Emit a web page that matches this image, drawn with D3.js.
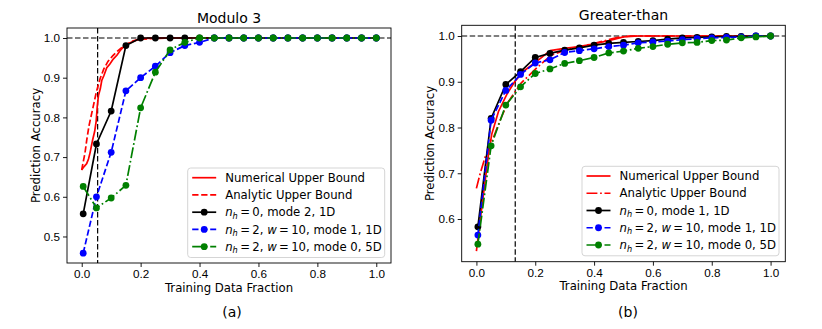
<!DOCTYPE html>
<html>
<head>
<meta charset="utf-8">
<script src="https://cdn.jsdelivr.net/npm/d3@7"></script>
<style>
  body { margin: 0; background: #fff; }
  svg { display: block; font-family: "DejaVu Sans", sans-serif; }
  .tick text { font-size: 11.7px; fill: #000; }
  .tick line, .domain { stroke: #000; }
</style>
</head>
<body>
<div id="chart"></div>
<script>
// training fractions at which the models were run
var fracs = [0.005, 0.05, 0.1, 0.15, 0.2, 0.25, 0.3, 0.35, 0.4, 0.45, 0.5,
             0.55, 0.6, 0.65, 0.7, 0.75, 0.8, 0.85, 0.9, 0.95, 1.0];

// (a) Modulo 3
var mod3Black = [0.557, 0.733, 0.816, 0.981, 1.0, 1.0, 1.0, 1.0, 1.0, 1.0, 1.0,
                 1.0, 1.0, 1.0, 1.0, 1.0, 1.0, 1.0, 1.0, 1.0, 1.0];
var mod3Blue  = [0.458, 0.600, 0.712, 0.867, 0.900, 0.929, 0.963, 0.981, 0.989, 1.0, 1.0,
                 1.0, 1.0, 1.0, 1.0, 1.0, 1.0, 1.0, 1.0, 1.0, 1.0];
var mod3Green = [0.626, 0.572, 0.597, 0.629, 0.824, 0.914, 0.970, 0.989, 1.0, 1.0, 1.0,
                 1.0, 1.0, 1.0, 1.0, 1.0, 1.0, 1.0, 1.0, 1.0, 1.0];
var mod3NumX = [0, 0.008, 0.017, 0.023, 0.028, 0.037, 0.044, 0.049, 0.053, 0.057, 0.063, 0.068,
                0.075, 0.085, 0.095, 0.107, 0.12, 0.13, 0.147, 0.17, 0.19, 0.22, 0.25, 1.0];
var mod3NumY = [0.668, 0.676, 0.684, 0.695, 0.71, 0.743, 0.765, 0.79, 0.83, 0.856, 0.872, 0.893,
                0.905, 0.925, 0.934, 0.947, 0.957, 0.968, 0.982, 0.99, 0.996, 0.999, 1.0, 1.0];
var mod3AnaX = [0, 0.002, 0.011, 0.017, 0.025, 0.038, 0.05, 0.063, 0.075, 0.089, 0.105, 0.12,
                0.141, 0.175, 0.2, 0.25, 0.3, 1.0];
var mod3AnaY = [0.667, 0.676, 0.71, 0.743, 0.78, 0.824, 0.865, 0.899, 0.922, 0.941, 0.955, 0.966,
                0.979, 0.993, 0.997, 0.999, 1.0, 1.0];

// (b) Greater-than
var gtBlack = [0.583, 0.820, 0.894, 0.922, 0.953, 0.962, 0.969, 0.974, 0.980, 0.984, 0.986,
               0.988, 0.990, 0.993, 0.996, 0.997, 0.998, 0.999, 0.999, 1.0, 1.0];
var gtBlue  = [0.565, 0.816, 0.881, 0.916, 0.941, 0.948, 0.964, 0.968, 0.972, 0.977, 0.980,
               0.985, 0.987, 0.989, 0.992, 0.994, 0.996, 0.997, 0.998, 1.0, 1.0];
var gtGreen = [0.545, 0.760, 0.849, 0.889, 0.918, 0.928, 0.940, 0.946, 0.953, 0.963, 0.967,
               0.973, 0.977, 0.982, 0.985, 0.986, 0.990, 0.991, 0.996, 0.998, 1.0];
var gtNumX = [0, 0.013, 0.03, 0.041, 0.052, 0.075, 0.103, 0.13, 0.16, 0.206, 0.251,
              0.3, 0.35, 0.4, 0.45, 0.5, 0.55, 1.0];
var gtNumY = [0.53, 0.598, 0.685, 0.74, 0.785, 0.835, 0.872, 0.9, 0.923, 0.945, 0.968,
              0.973, 0.977, 0.983, 0.99, 0.998, 1.0, 1.0];
var gtAnaX = [0, 0.013, 0.03, 0.05, 0.08, 0.107, 0.152, 0.203, 0.254, 0.311, 0.402, 0.481, 0.52, 1.0];
var gtAnaY = [0.667, 0.70, 0.736, 0.765, 0.815, 0.855, 0.897, 0.929, 0.958, 0.971, 0.984, 0.997, 1.0, 1.0];

var xTicks = [0, 0.2, 0.4, 0.6, 0.8, 1.0];

var svg = d3.select("#chart").append("svg")
  .attr("width", 822)
  .attr("height", 329);

function zip(xs, ys) {
  return xs.map(function(x, i) { return [x, ys[i]]; });
}

function drawPanel(p) {
  var x = d3.scaleLinear().domain([-0.05, 1.05]).range([p.left, p.right]);
  var y = d3.scaleLinear().domain(p.ydom).range([p.bottom, p.top]);
  var g = svg.append("g");

  var clipId = "clip" + p.tag;
  svg.append("clipPath").attr("id", clipId)
    .append("rect")
    .attr("x", p.left).attr("y", p.top)
    .attr("width", p.right - p.left).attr("height", p.bottom - p.top);

  var plot = g.append("g").attr("clip-path", "url(#" + clipId + ")");

  // reference lines
  plot.append("line")
    .attr("x1", p.left).attr("x2", p.right)
    .attr("y1", y(1)).attr("y2", y(1))
    .attr("stroke", "#000").attr("stroke-width", 1.2)
    .attr("stroke-dasharray", "5.5,2.5");
  plot.append("line")
    .attr("x1", x(p.vline)).attr("x2", x(p.vline))
    .attr("y1", p.top).attr("y2", p.bottom)
    .attr("stroke", "#000").attr("stroke-width", 1.2)
    .attr("stroke-dasharray", "5.5,2.5");

  var line = d3.line()
    .x(function(d) { return x(d[0]); })
    .y(function(d) { return y(d[1]); });

  p.series.forEach(function(s) {
    plot.append("path")
      .datum(s.pts)
      .attr("d", line)
      .attr("fill", "none")
      .attr("stroke", s.color)
      .attr("stroke-width", 1.7)
      .attr("stroke-dasharray", s.dash || null);
    if (s.marker) {
      plot.selectAll(null)
        .data(s.pts)
        .enter()
        .append("circle")
        .attr("cx", function(d) { return x(d[0]); })
        .attr("cy", function(d) { return y(d[1]); })
        .attr("r", 3.4)
        .attr("fill", s.color);
    }
  });

  // axes
  g.append("g")
    .attr("transform", "translate(0," + p.bottom + ")")
    .call(d3.axisBottom(x).tickValues(xTicks).tickFormat(d3.format(".1f"))
      .tickSizeOuter(0).tickSize(4).tickPadding(3))
    .call(function(a) { a.select(".domain").remove(); });
  g.append("g")
    .attr("transform", "translate(" + p.left + ",0)")
    .call(d3.axisLeft(y).tickValues(p.yticks).tickFormat(d3.format(".1f"))
      .tickSizeOuter(0).tickSize(4).tickPadding(3))
    .call(function(a) { a.select(".domain").remove(); });
  g.selectAll(".tick line").attr("stroke-width", 0.9);

  g.append("rect")
    .attr("x", p.left).attr("y", p.top)
    .attr("width", p.right - p.left).attr("height", p.bottom - p.top)
    .attr("fill", "none").attr("stroke", "#000").attr("stroke-width", 0.9);

  // titles and labels
  var cx = (p.left + p.right) / 2;
  g.append("text")
    .attr("x", cx).attr("y", p.top - 5)
    .attr("text-anchor", "middle").attr("font-size", "14px")
    .text(p.title);
  g.append("text")
    .attr("x", cx).attr("y", p.bottom + 28.5)
    .attr("text-anchor", "middle").attr("font-size", "11.7px")
    .text("Training Data Fraction");
  g.append("text")
    .attr("transform", "translate(" + p.ylabX + "," + ((p.top + p.bottom) / 2) + ") rotate(-90)")
    .attr("text-anchor", "middle").attr("dy", "0.35em").attr("font-size", "11.7px")
    .text("Prediction Accuracy");
  g.append("text")
    .attr("x", p.capX).attr("y", 317)
    .attr("text-anchor", "middle").attr("font-size", "14px")
    .text(p.caption);

  // legend
  var lg = g.append("g").attr("transform", "translate(" + p.legX + "," + p.legY + ")");
  lg.append("rect")
    .attr("x", 0).attr("y", 0)
    .attr("width", 197).attr("height", 89.5)
    .attr("rx", 3)
    .attr("fill", "#fff").attr("fill-opacity", 0.8)
    .attr("stroke", "#d0d0d0").attr("stroke-width", 0.9);
  p.series.forEach(function(s, i) {
    var ey = 9.7 + i * 17.25;
    lg.append("line")
      .attr("x1", 4.5).attr("x2", 28.5)
      .attr("y1", ey).attr("y2", ey)
      .attr("stroke", s.color).attr("stroke-width", 1.7)
      .attr("stroke-dasharray", s.dash || null);
    if (s.marker) {
      lg.append("circle").attr("cx", 16.5).attr("cy", ey).attr("r", 3.4).attr("fill", s.color);
    }
    var t = lg.append("text")
      .attr("x", 37.5).attr("y", ey).attr("dy", "0.36em")
      .attr("font-size", "11.7px");
    if (s.nh !== undefined) {
      t.append("tspan").attr("font-style", "italic").text("n");
      t.append("tspan").attr("font-style", "italic").attr("font-size", "8.2px").attr("dy", 2.5).text("h");
      var rest = "\u2009=\u2009" + s.nh + ", ";
      t.append("tspan").attr("dy", -2.5).text(rest);
      if (s.w !== undefined) {
        t.append("tspan").attr("font-style", "italic").text("w");
        t.append("tspan").text("\u2009=\u2009" + s.w + ", ");
      }
      t.append("tspan").text(s.label);
    } else {
      t.text(s.label);
    }
  });
}

drawPanel({
  tag: "a", title: "Modulo 3", caption: "(a)", capX: 232,
  left: 67, right: 391, top: 28, bottom: 263,
  ydom: [0.4332, 1.0252], yticks: [0.5, 0.6, 0.7, 0.8, 0.9, 1.0],
  vline: 0.054, ylabX: 35.5, legX: 187.7, legY: 168,
  series: [
    { pts: zip(mod3NumX, mod3NumY), color: "red", label: "Numerical Upper Bound" },
    { pts: zip(mod3AnaX, mod3AnaY), color: "red", dash: "6.3,2.7", label: "Analytic Upper Bound" },
    { pts: zip(fracs, mod3Black), color: "black", marker: true, nh: 0, label: "mode 2, 1D" },
    { pts: zip(fracs, mod3Blue), color: "blue", marker: true, dash: "6.3,2.7", nh: 2, w: 10, label: "mode 1, 1D" },
    { pts: zip(fracs, mod3Green), color: "green", marker: true, dash: "10.9,2.7,1.7,2.7", nh: 2, w: 10, label: "mode 0, 5D" }
  ]
});

drawPanel({
  tag: "b", title: "Greater-than", caption: "(b)", capX: 628,
  left: 461.7, right: 785.3, top: 25.3, bottom: 261.7,
  ydom: [0.5067, 1.0234], yticks: [0.6, 0.7, 0.8, 0.9, 1.0],
  vline: 0.132, ylabX: 429.7, legX: 582, legY: 166.3,
  series: [
    { pts: zip(gtNumX, gtNumY), color: "red", label: "Numerical Upper Bound" },
    { pts: zip(gtAnaX, gtAnaY), color: "red", dash: "10.9,2.7,1.7,2.7", label: "Analytic Upper Bound" },
    { pts: zip(fracs, gtBlack), color: "black", marker: true, nh: 0, label: "mode 1, 1D" },
    { pts: zip(fracs, gtBlue), color: "blue", marker: true, dash: "6.3,2.7", nh: 2, w: 10, label: "mode 1, 1D" },
    { pts: zip(fracs, gtGreen), color: "green", marker: true, dash: "10.9,2.7,1.7,2.7", nh: 2, w: 10, label: "mode 0, 5D" }
  ]
});
</script>
</body>
</html>
